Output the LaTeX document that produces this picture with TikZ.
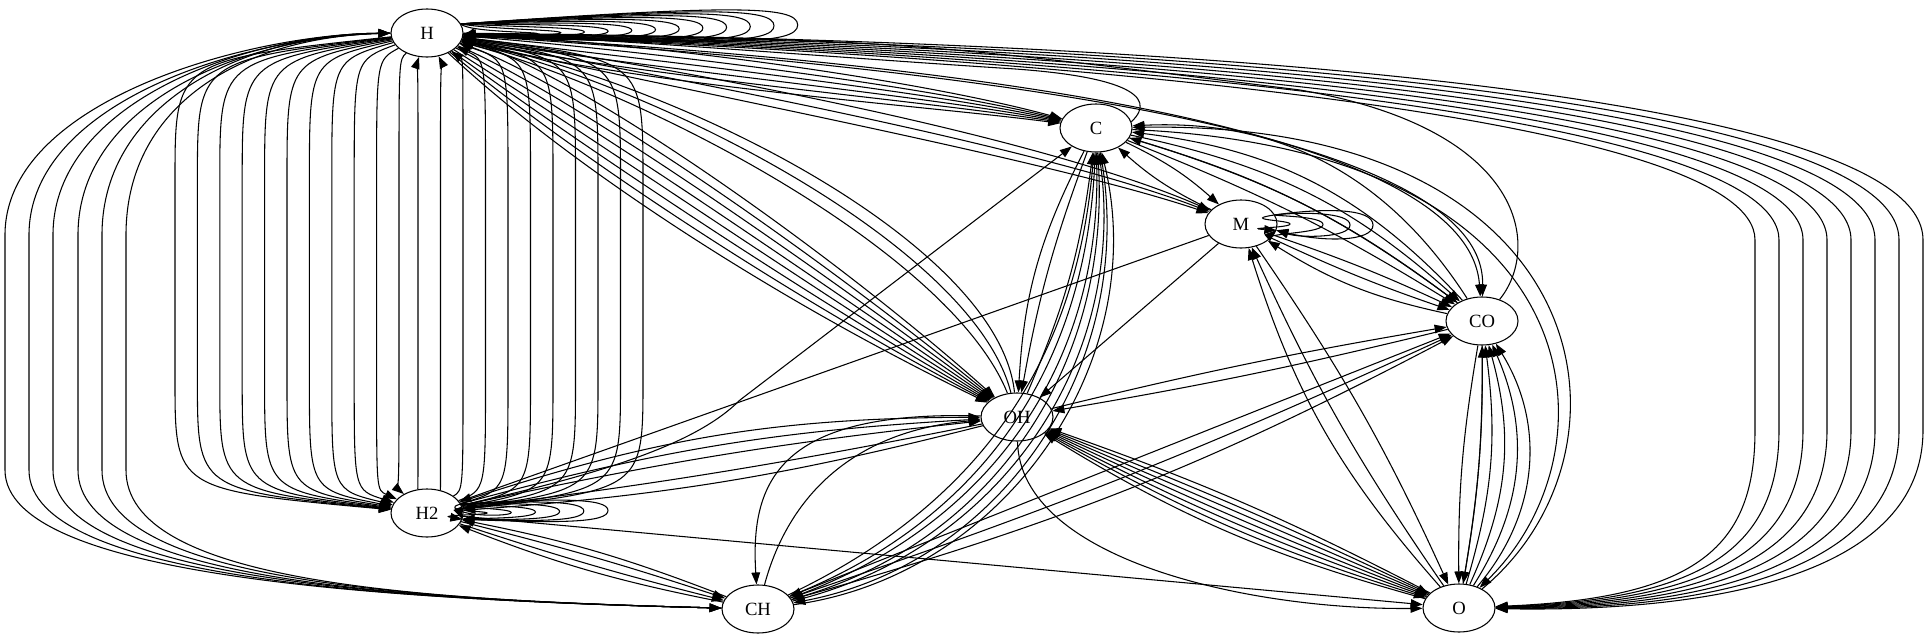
\documentclass[tikz,border=0pt]{standalone}
\usepackage{fontspec}
\setmainfont{Liberation Serif}
\usetikzlibrary{shapes.geometric, arrows.meta}
\tikzset{
  sp/.style={draw, ellipse, line width=0.8pt, minimum width=54pt, minimum height=36pt, inner sep=0pt, font=\fontsize{14}{16}\selectfont},
  ed/.style={-{Triangle[length=9pt, width=6.5pt]}, line width=0.8pt},
}
\begin{document}
\begin{tikzpicture}[x=0.75pt, y=-0.75pt]
\useasboundingbox (0,0) rectangle (1928,639);
\node[sp] (H) at (427,33) {H};
\node[sp] (C) at (1096,128) {C};
\node[sp] (M) at (1241,224) {M};
\node[sp] (CO) at (1482,321) {CO};
\node[sp] (OH) at (1017,417) {OH};
\node[sp] (H2) at (427,513) {H2};
\node[sp] (CH) at (758,609) {CH};
\node[sp] (O) at (1459,608) {O};

\foreach \k [evaluate=\k as \xr using 537+23.7*\k, evaluate=\k as \yt using 32-2.45*\k, evaluate=\k as \yb using 35+0.9*\k] in {0,...,11}
  \draw[ed] (H.15) .. controls ({\xr-70},\yt) and (\xr,\yt) .. (\xr,{(\yt+\yb)/2}) .. controls (\xr,\yb) and ({\xr-70},\yb) .. (H.355);
\foreach \k [evaluate=\k as \xr using 487+24.2*\k, evaluate=\k as \yt using 511-2.6*\k, evaluate=\k as \yb using 515+1.6*\k] in {0,...,5}
  \draw[ed] (H2.15) .. controls ({\xr-50},\yt) and (\xr,\yt) .. (\xr,{(\yt+\yb)/2}) .. controls (\xr,\yb) and ({\xr-50},\yb) .. (H2.350);
\foreach \xr/\yt/\yb in {1290/220/228, 1323/216/233, 1350/212/238, 1373/208/242}
  \draw[ed] (M.15) .. controls ({\xr-50},\yt) and (\xr,\yt) .. (\xr,{(\yt+\yb)/2}) .. controls (\xr,\yb) and ({\xr-50},\yb) .. (M.350);

\foreach \x in {175,197.4,...,400}
  \draw[ed] (H) .. controls (\x,60) .. (\x,180) -- (\x,380) .. controls (\x,490) .. (H2);
\foreach \x in {418,440.5,...,644}
  \draw[ed] (H2) .. controls (\x,490) .. (\x,380) -- (\x,180) .. controls (\x,60) .. (H);
\foreach \x in {5,53,102}
  \draw[ed] (CH) .. controls (400,600) and (\x,580) .. (\x,470) -- (\x,235) .. controls (\x,100) and (250,34) .. (H);
\foreach \x in {29,78,126}
  \draw[ed] (H) .. controls (250,34) and (\x,100) .. (\x,235) -- (\x,470) .. controls (\x,580) and (400,600) .. (CH);

\foreach \d in {0,...,5}
  \draw[ed] (H) .. controls (650,{42+9*\d}) and (920,{80+5*\d}) .. (C);
\draw[ed] (C.10) .. controls (1160,95) and (1120,75) .. (1000,68) .. controls (800,55) and (600,38) .. (H);
\foreach \d in {0,1,2}
  \draw[ed] (H) .. controls (700,{70+12*\d}) and (1050,{140+10*\d}) .. (M);
\foreach \d in {0,...,7}
  \draw[ed] (H) .. controls (560,{60+14*\d}) and ({830-10*\d},{250+6*\d}) .. (OH);
\foreach \d in {0,1,2}
  \draw[ed] (OH) .. controls ({1000-25*\d},250) and ({700-30*\d},90) .. (H);
\foreach \x [count=\i] in {1755,1779,...,1923}
  \draw[ed] (H) .. controls (1100,{62-3*\i}) and (\x,{125-5*\i}) .. (\x,240) -- (\x,430) .. controls (\x,{540+5*\i}) and (1700,{596+2*\i}) .. (O);
\foreach \d in {0,1}
  \draw[ed] (H) .. controls (1100,{70+6*\d}) and ({1470+15*\d},150) .. (CO);
\draw[ed] (CO) .. controls (1540,250) and (1530,130) .. (1300,90) .. controls (900,40) .. (H);

\draw[ed] (C) to[bend left=8] (M);
\draw[ed] (M) to[bend left=8] (C);
\draw[ed] (H2) .. controls (620,470) and (700,440) .. (740,400) -- (C);
\draw[ed] (M) -- (H2);
\draw[ed] (M) -- (OH);
\foreach \b in {3,6,9}
  \draw[ed] (H2) to[bend left=\b] (OH);
\foreach \b in {2,5}
  \draw[ed] (OH) to[bend left=\b] (H2);
\draw[ed] (OH) .. controls (780,410) and (750,480) .. (CH);
\draw[ed] (CH) .. controls (790,490) and (860,430) .. (OH);
\foreach \b in {-2,2}
  \draw[ed] (H2) to[bend left=\b] (CH);
\foreach \b in {-5,5}
  \draw[ed] (CH) to[bend left=\b] (H2);
\draw[ed] (H2) -- (O);
\draw[ed] (C) to[bend right=5] (OH);
\draw[ed] (C) to[bend right=12] (OH);
\draw[ed] (OH) to[bend right=8] (C);
\foreach \b in {30,36,42,48}
  \draw[ed] (CH) to[bend right=\b] (C);
\foreach \b in {33,39,45}
  \draw[ed] (C) to[bend left=\b] (CH);
\foreach \b in {-6,-2,2}
  \draw[ed] (OH) to[bend left=\b] (O);
\foreach \b in {-4,0,4,8}
  \draw[ed] (O) to[bend left=\b] (OH);
\draw[ed] (OH) .. controls (1020,560) and (1250,610) .. (O);
\draw[ed] (OH) to[bend left=2] (CO);
\draw[ed] (CO) to[bend left=2] (OH);
\foreach \b in {0,3,6}
  \draw[ed] (CH) to[bend right=\b] (CO);
\foreach \b in {5,10,15}
  \draw[ed] (C) to[bend left=\b] (CO);
\foreach \b in {10,20,30}
  \draw[ed] (CO) to[bend right=\b] (C);
\draw[ed] (M) to[bend left=3] (CO);
\draw[ed] (M) to[bend right=3] (CO);
\draw[ed] (CO) to[bend left=10] (M);
\draw[ed] (M) to[bend left=5] (O);
\draw[ed] (O) to[bend left=5] (M);
\draw[ed] (O) to[bend left=12] (M);
\foreach \b in {5,12,20,28,36}
  \draw[ed] (O) to[bend right=\b] (CO);
\draw[ed] (CO) to[bend right=5] (O);
\draw[ed] (CO) to[bend left=5] (O);
\draw[ed] (C) .. controls (1600,150) and (1620,450) .. (O);
\draw[ed] (O) .. controls (1650,450) and (1600,120) .. (C);
\end{tikzpicture}
\end{document}
